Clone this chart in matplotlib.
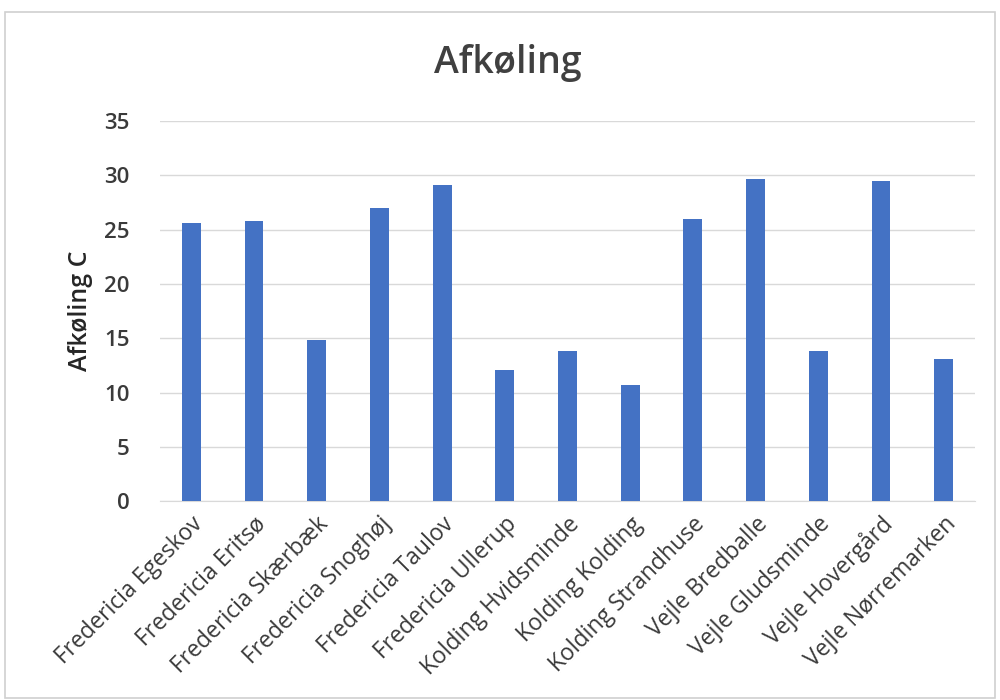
import matplotlib.pyplot as plt
from matplotlib.patches import Rectangle

stations = ["Fredericia Egeskov", "Fredericia Eritsø", "Fredericia Skærbæk",
            "Fredericia Snoghøj", "Fredericia Taulov", "Fredericia Ullerup",
            "Kolding Hvidsminde", "Kolding Kolding", "Kolding Strandhuse",
            "Vejle Bredballe", "Vejle Gludsminde", "Vejle Hovergård",
            "Vejle Nørremarken"]
afkoling = [25.6, 25.8, 14.8, 27.0, 29.1, 12.1, 13.8, 10.7, 26.0, 29.7, 13.8, 29.5, 13.1]
yticks = [0, 5, 10, 15, 20, 25, 30, 35]

plt.rcParams['font.family'] = ['Open Sans', 'DejaVu Sans']

fig = plt.figure(figsize=(10, 7), dpi=100)
ax = fig.add_axes([0.160, 0.284, 0.815, 0.543])

x = range(len(stations))
ax.bar(x, afkoling, width=0.3, color='#4472C4', zorder=3)

ax.set_xlim(-0.5, len(stations) - 0.5)
ax.set_ylim(0, 35)
ax.set_yticks(yticks)
ax.set_yticklabels([str(t) for t in yticks], fontsize=16, color='#3a3a3a',
                   fontweight='semibold')
ax.set_xticks(list(x))
ax.set_xticklabels(stations, rotation=45, ha='right', rotation_mode='anchor',
                   fontsize=16.5, color='#3a3a3a')
ax.tick_params(axis='y', length=0, pad=22)
ax.tick_params(axis='x', length=0, pad=8)
ax.grid(axis='y', color='#d9d9d9', linewidth=1, zorder=0)
for s in ['top', 'right', 'left']:
    ax.spines[s].set_visible(False)
ax.spines['bottom'].set_color('#d9d9d9')

ax.set_ylabel("Afkøling C", fontsize=18, color='#262626', labelpad=8,
              fontweight='semibold')
fig.text(0.508, 0.91, "Afkøling", ha='center', va='center', fontsize=27,
         color='#404040', fontweight='semibold')

fig.patches.append(Rectangle((0.005, 0.003), 0.99, 0.98, transform=fig.transFigure,
                             fill=False, edgecolor='#d0d0d0', linewidth=1.2))

fig.savefig("out.png", dpi=100)
